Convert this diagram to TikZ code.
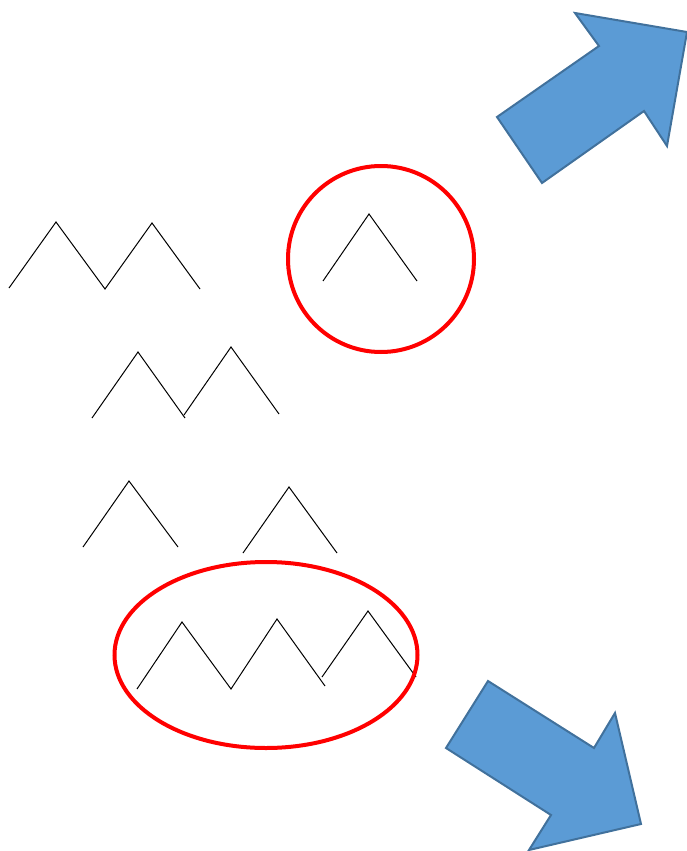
\documentclass[tikz,border=0pt]{standalone}
\usetikzlibrary{shapes.geometric}
\begin{document}
\begin{tikzpicture}[x=1pt,y=-1pt,
  zig/.style={black,line width=1pt},
  ring/.style={draw=red,line width=4pt},
  bigarrow/.style={fill={rgb,255:red,91;green,155;blue,213},draw={rgb,255:red,65;green,113;blue,156},line width=2pt,line join=miter}]
\useasboundingbox (0,0) rectangle (687,851);
% zigzags
\draw[zig] (9,288) -- (56,222) -- (105,289) -- (152,223) -- (200,289);
\draw[zig] (92,418) -- (138,352) -- (185,418);
\draw[zig] (184,415) -- (231,347) -- (279,414);
\draw[zig] (323,281) -- (369,214) -- (417,281);
\draw[zig] (83,547) -- (129,481) -- (178,547);
\draw[zig] (243,553) -- (289,487) -- (337,553);
\draw[zig] (137,689) -- (182,622) -- (231,689) -- (277,619) -- (325,686);
\draw[zig] (322,677) -- (368,611) -- (416,677);
% red rings
\node[ring,circle,minimum size=186pt,inner sep=0pt] (c1) at (381,259) {};
\node[ring,ellipse,minimum width=303pt,minimum height=186pt,inner sep=0pt] (e1) at (266,655) {};
% arrows
\draw[bigarrow] (575,13) -- (687,32) -- (667,146) -- (644,111) -- (542,183) -- (497,117) -- (599,46) -- cycle;
\draw[bigarrow] (488,681) -- (594,748) -- (615,713) -- (641,824) -- (529,850) -- (551,815) -- (446,748) -- cycle;
\end{tikzpicture}
\end{document}
